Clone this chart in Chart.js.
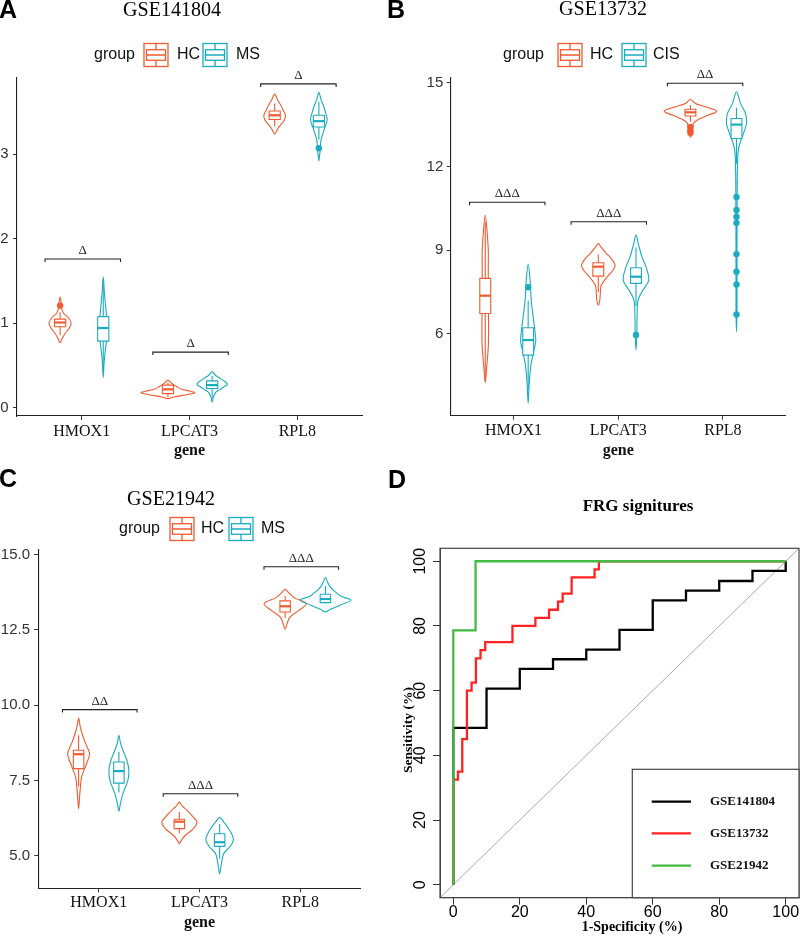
<!DOCTYPE html>
<html>
<head>
<meta charset="utf-8">
<script src="https://cdn.jsdelivr.net/npm/chart.js@4.4.1/dist/chart.umd.min.js"></script>
<style>
  body { margin: 0; background: #fff; }
  #fig { position: relative; width: 800px; height: 936px; overflow: hidden; background: #fff; }
  canvas { position: absolute; }
  .tag { position: absolute; font: bold 25px/25px "Liberation Sans", Arial, sans-serif; color: #000; }
</style>
</head>
<body>
<div id="fig">
  <canvas id="panelA" width="400" height="460" style="left:0;top:0"></canvas>
  <canvas id="panelB" width="400" height="460" style="left:400px;top:0"></canvas>
  <canvas id="panelC" width="400" height="476" style="left:0;top:460px"></canvas>
  <canvas id="panelD" width="400" height="476" style="left:400px;top:460px"></canvas>
  <div class="tag" style="left:-1px;top:-3px">A</div>
  <div class="tag" style="left:387px;top:-3px">B</div>
  <div class="tag" style="left:-1px;top:466px">C</div>
  <div class="tag" style="left:388px;top:467px">D</div>
</div>
<script>
const SANS = '"Liberation Sans", Arial, sans-serif';
const SERIF = '"Liberation Serif", "Times New Roman", serif';
const COL_HC = '#F05A30';
const COL_2 = '#1AACC0';

const genes = ['HMOX1', 'LPCAT3', 'RPL8'];

// ---- A: GSE141804 (HC vs MS) ----
const aYTicks = [0, 1, 2, 3];
// [lower whisker, q1, median, q3, upper whisker]
const aBoxHC = [[0.86, 0.96, 1.01, 1.05, 1.13], [0.13, 0.17, 0.22, 0.27, 0.30], [3.33, 3.41, 3.46, 3.51, 3.60]];
const aBoxMS = [[0.42, 0.79, 0.945, 1.08, 1.45], [0.12, 0.23, 0.27, 0.32, 0.38], [3.17, 3.32, 3.39, 3.46, 3.62]];
const aOutHC = [[1.21], [], []];
const aOutMS = [[], [], [3.07]];
// violin outline: [value, half width in category units]
const aViolinHC = [
  [[0.77, 0], [0.82, .019], [0.88, .046], [0.95, .088], [1.01, .102], [1.07, .074], [1.12, .032], [1.18, .014], [1.25, .009], [1.31, 0]],
  [[0.11, 0], [0.13, .056], [0.16, .186], [0.18, .25], [0.20, .204], [0.22, .13], [0.25, .083], [0.28, .046], [0.31, .019], [0.33, 0]],
  [[3.24, 0], [3.30, .028], [3.36, .065], [3.41, .093], [3.46, .10], [3.52, .079], [3.58, .056], [3.64, .028], [3.71, 0]]
];
const aViolinMS = [
  [[0.36, 0], [0.50, .006], [0.65, .016], [0.80, .031], [0.94, .037], [1.08, .031], [1.24, .019], [1.39, .009], [1.55, 0]],
  [[0.07, 0], [0.12, .009], [0.15, .019], [0.19, .037], [0.22, .074], [0.25, .111], [0.28, .142], [0.31, .121], [0.35, .074], [0.39, .028], [0.43, 0]],
  [[2.92, 0], [2.97, .005], [3.07, .014], [3.16, .019], [3.28, .046], [3.40, .077], [3.48, .065], [3.56, .046], [3.65, .019], [3.73, 0]]
];
const aSigText = ['Δ', 'Δ', 'Δ'];
const aSigY = [1.76, 0.66, 3.83];

// ---- B: GSE13732 (HC vs CIS) ----
const bYTicks = [6, 9, 12, 15];
const bBoxHC = [[4.4, 6.73, 7.37, 7.99, 10.0], [7.5, 8.07, 8.41, 8.55, 8.85], [13.6, 13.81, 13.94, 14.05, 14.2]];
const bBoxCIS = [[4.0, 5.24, 5.78, 6.22, 7.2], [7.0, 7.81, 8.05, 8.37, 9.1], [12.1, 13.0, 13.5, 13.72, 14.1]];
const bOutHC = [[], [], [13.42, 13.30, 13.21]];
const bOutCIS = [[7.67], [5.96], [10.91, 10.44, 10.20, 9.98, 8.86, 8.23, 7.77, 6.70]];
const bViolinHC = [
  [[4.25, 0], [4.82, .014], [5.54, .029], [6.25, .032], [7.33, .029], [8.4, .029], [9.0, .029], [9.6, .019], [10.26, 0]],
  [[7.03, 0], [7.2, .014], [7.45, .019], [7.75, .029], [8.05, .086], [8.3, .143], [8.47, .16], [8.7, .124], [8.89, .076], [9.1, .029], [9.24, 0]],
  [[13.04, 0], [13.3, .019], [13.55, .029], [13.69, .076], [13.84, .172], [13.99, .251], [14.14, .143], [14.26, .048], [14.4, 0]]
];
const bViolinCIS = [
  [[3.51, 0], [4.22, .01], [4.82, .024], [5.3, .048], [5.72, .072], [6.02, .067], [6.61, .048], [7.21, .029], [7.9, .019], [8.5, 0]],
  [[5.42, 0], [6.0, .008], [6.6, .01], [7.2, .019], [7.57, .067], [7.93, .122], [8.4, .096], [8.76, .057], [9.2, .024], [9.54, 0]],
  [[6.08, 0], [7.0, .005], [9.0, .005], [11.5, .007], [12.47, .014], [12.83, .033], [13.19, .067], [13.54, .096], [13.9, .086], [14.26, .038], [14.68, 0]]
];
const bSigText = ['ΔΔΔ', 'ΔΔΔ', 'ΔΔ'];
const bSigY = [10.72, 10.02, 14.98];

// ---- C: GSE21942 (HC vs MS) ----
const cYTicks = [5, 7.5, 10, 12.5, 15];
const cBoxHC = [[7.3, 7.89, 8.37, 8.5, 9.0], [5.75, 5.9, 6.13, 6.21, 6.45], [12.9, 13.09, 13.28, 13.46, 13.62]];
const cBoxMS = [[7.1, 7.41, 7.81, 8.11, 8.45], [4.9, 5.31, 5.45, 5.73, 6.05], [13.38, 13.40, 13.52, 13.68, 13.95]];
const cOutHC = [[], [], []];
const cOutMS = [[], [], []];
const cViolinHC = [
  [[6.56, 0], [6.84, .007], [7.17, .015], [7.61, .03], [8.06, .079], [8.39, .109], [8.72, .07], [9.05, .035], [9.3, .015], [9.57, 0]],
  [[5.4, 0], [5.51, .02], [5.68, .06], [5.9, .139], [6.12, .174], [6.28, .139], [6.5, .079], [6.65, .03], [6.78, 0]],
  [[12.52, 0], [12.71, .02], [12.93, .05], [13.15, .139], [13.37, .209], [13.55, .099], [13.65, .06], [13.75, .03], [13.84, 0]]
];
const cViolinMS = [
  [[6.48, 0], [6.73, .015], [7.06, .04], [7.5, .089], [7.83, .099], [8.17, .079], [8.5, .04], [8.75, .015], [9.0, 0]],
  [[4.4, 0], [4.57, .01], [4.79, .02], [5.07, .04], [5.29, .099], [5.51, .136], [5.73, .119], [5.95, .079], [6.12, .04], [6.28, 0]],
  [[13.09, 0], [13.18, .05], [13.32, .149], [13.48, .253], [13.6, .159], [13.7, .119], [13.87, .06], [14.05, .025], [14.24, 0]]
];
const cSigText = ['ΔΔ', 'ΔΔΔ', 'ΔΔΔ'];
const cSigY = [9.85, 7.06, 14.59];

// ---- D: ROC curves, percent ----
const rocNames = ['GSE141804', 'GSE13732', 'GSE21942'];
const rocColors = ['#000000', '#FF2222', '#44B944'];
const roc1Fpr = [0, 0, 10, 20, 30, 40, 50, 60, 70, 80, 90, 100];
const roc1Sens = [0, 48.5, 60.6, 66.7, 69.7, 72.7, 78.8, 87.9, 90.9, 93.9, 97.0, 100];
const roc2Fpr = [0, 0, 1.4, 2.7, 4.1, 5.5, 6.8, 8.2, 9.6, 17.8, 24.7, 28.8, 31.5, 32.9, 35.6, 42.5, 43.8, 100];
const roc2Sens = [0, 32.5, 35, 45, 60, 62.5, 70, 72.5, 75, 80, 82.5, 85, 87.5, 90, 95, 97.5, 100, 100];
const roc3Fpr = [0, 0, 6.7, 100];
const roc3Sens = [0, 78.6, 100, 100];
const rocTicks = [0, 20, 40, 60, 80, 100];

// ---------- violin panels ----------
function curvePath(ctx, pts) {
  const n = pts.length;
  ctx.moveTo(pts[0][0], pts[0][1]);
  for (let i = 0; i < n; i++) {
    const p0 = pts[(i - 1 + n) % n], p1 = pts[i], p2 = pts[(i + 1) % n], p3 = pts[(i + 2) % n];
    ctx.bezierCurveTo(
      p1[0] + (p2[0] - p0[0]) / 6, p1[1] + (p2[1] - p0[1]) / 6,
      p2[0] - (p3[0] - p1[0]) / 6, p2[1] - (p3[1] - p1[1]) / 6,
      p2[0], p2[1]);
  }
  ctx.closePath();
}

function drawKey(ctx, x, y, w, h, color) {
  ctx.save();
  ctx.strokeStyle = color;
  ctx.lineWidth = 1.3;
  ctx.strokeRect(x, y, w, h);
  const t = y + h * 0.27, b = y + h * 0.73, m = y + h / 2, cx = x + w / 2;
  ctx.strokeRect(x + 2.5, t, w - 5, b - t);
  ctx.beginPath();
  ctx.moveTo(x + 2.5, m); ctx.lineTo(x + w - 2.5, m);
  ctx.moveTo(cx, y); ctx.lineTo(cx, t);
  ctx.moveTo(cx, b); ctx.lineTo(cx, y + h);
  ctx.stroke();
  ctx.restore();
}

function violinChart(id, p, lay) {
  const colors = [COL_HC, COL_2];
  const datasets = p.outliers.map((grp, g) => ({
    data: grp.flatMap((vals, i) => vals.map(v => ({ x: i + 1 + lay.dodge[g][i], y: v }))),
    backgroundColor: colors[g],
    borderWidth: 0,
    pointRadius: 3.2
  }));

  const violinPlugin = {
    id: 'violins',
    beforeDatasetsDraw(chart) {
      const ctx = chart.ctx, xs = chart.scales.x, ys = chart.scales.y;
      ctx.save();
      ctx.lineJoin = 'round';
      // violins
      p.violins.forEach((grp, g) => grp.forEach((knots, i) => {
        const cx = i + 1 + lay.dodge[g][i];
        const right = knots.map(([v, w]) => [xs.getPixelForValue(cx + w), ys.getPixelForValue(v)]);
        const left = knots.slice(1, -1).map(([v, w]) => [xs.getPixelForValue(cx - w), ys.getPixelForValue(v)]).reverse();
        ctx.beginPath();
        curvePath(ctx, right.concat(left));
        ctx.strokeStyle = colors[g];
        ctx.lineWidth = 1.1;
        ctx.stroke();
      }));
      // boxes
      p.boxes.forEach((grp, g) => grp.forEach((b, i) => {
        const cx = i + 1 + lay.dodge[g][i];
        const x0 = xs.getPixelForValue(cx - 0.052), x1 = xs.getPixelForValue(cx + 0.052);
        const xm = xs.getPixelForValue(cx);
        const [lo, q1, md, q3, hi] = b.map(v => ys.getPixelForValue(v));
        ctx.strokeStyle = colors[g];
        ctx.lineWidth = 1.1;
        ctx.beginPath();
        ctx.moveTo(xm, q3); ctx.lineTo(xm, hi);
        ctx.moveTo(xm, q1); ctx.lineTo(xm, lo);
        ctx.stroke();
        ctx.fillStyle = '#fff';
        ctx.fillRect(x0, q3, x1 - x0, q1 - q3);
        ctx.strokeRect(x0, q3, x1 - x0, q1 - q3);
        ctx.lineWidth = 2.2;
        ctx.beginPath();
        ctx.moveTo(x0, md); ctx.lineTo(x1, md);
        ctx.stroke();
      }));
      ctx.restore();
    },
    afterDraw(chart) {
      const ctx = chart.ctx, xs = chart.scales.x, ys = chart.scales.y;
      ctx.save();
      // significance brackets
      ctx.strokeStyle = '#222';
      ctx.fillStyle = '#222';
      ctx.lineWidth = 1.1;
      ctx.font = '13px ' + SERIF;
      ctx.textAlign = 'center';
      ctx.textBaseline = 'alphabetic';
      p.sigY.forEach((v, i) => {
        const y = ys.getPixelForValue(v);
        const x0 = xs.getPixelForValue(i + 1 + lay.brLo[i]);
        const x1 = xs.getPixelForValue(i + 1 + lay.brHi[i]);
        ctx.beginPath();
        ctx.moveTo(x0, y + 3); ctx.lineTo(x0, y); ctx.lineTo(x1, y); ctx.lineTo(x1, y + 3);
        ctx.stroke();
        ctx.fillText(p.sigText[i], (x0 + x1) / 2, y - 5);
      });
      // title
      ctx.fillStyle = '#000';
      ctx.font = '20px ' + SERIF;
      ctx.fillText(p.title, lay.titleX, lay.titleBase);
      // legend
      ctx.font = '16px ' + SANS;
      ctx.textAlign = 'left';
      ctx.textBaseline = 'middle';
      ctx.fillStyle = '#111';
      ctx.fillText('group', lay.leg[0], lay.legY);
      drawKey(ctx, lay.leg[1], lay.legY - 11.5, 24, 23, COL_HC);
      ctx.fillText(p.groups[0], lay.leg[2], lay.legY);
      drawKey(ctx, lay.leg[3], lay.legY - 11.5, 24, 23, COL_2);
      ctx.fillText(p.groups[1], lay.leg[4], lay.legY);
      ctx.restore();
    }
  };

  return new Chart(document.getElementById(id), {
    type: 'scatter',
    data: { datasets },
    options: {
      responsive: false,
      animation: false,
      layout: { padding: lay.pad },
      plugins: { legend: { display: false }, tooltip: { enabled: false } },
      scales: {
        x: {
          type: 'linear', min: 0.4, max: 3.6,
          afterFit: s => { s.height = lay.xH; },
          afterBuildTicks: s => { s.ticks = genes.map((g, i) => ({ value: i + 1 })); },
          ticks: { callback: v => genes[v - 1], font: { family: SERIF, size: 16 }, color: '#111', padding: lay.xPad, maxRotation: 0, autoSkip: false },
          grid: { drawOnChartArea: false, tickLength: 4, color: '#333' },
          border: { color: '#222', width: 1.1 },
          title: { display: true, text: 'gene', font: { family: SERIF, size: 16, weight: 'bold' }, color: '#111', padding: { top: 0, bottom: lay.titlePadB } }
        },
        y: {
          type: 'linear', min: p.yMin, max: p.yMax,
          afterFit: s => { s.width = lay.yW; },
          afterBuildTicks: s => { s.ticks = p.yTicks.map(v => ({ value: v })); },
          ticks: { callback: p.yFmt, font: { family: SANS, size: 15 }, color: '#333', padding: lay.yPad },
          grid: { drawOnChartArea: false, tickLength: 4, color: '#333' },
          border: { color: '#222', width: 1.1 }
        }
      }
    },
    plugins: [violinPlugin]
  });
}

violinChart('panelA', {
  title: 'GSE141804', groups: ['HC', 'MS'], yMin: -0.095, yMax: 3.9, yTicks: aYTicks, yFmt: v => String(v),
  boxes: [aBoxHC, aBoxMS], outliers: [aOutHC, aOutMS], violins: [aViolinHC, aViolinMS],
  sigText: aSigText, sigY: aSigY
}, {
  pad: { top: 78, right: 38, left: 0, bottom: 0 }, yW: 17, xH: 44, yPad: 4.5, xPad: 2, titlePadB: 0,
  dodge: [[-0.2, -0.2, -0.21], [0.2, 0.21, 0.2]],
  brLo: [-0.34, -0.34, -0.34], brHi: [0.36, 0.36, 0.36],
  titleX: 172, titleBase: 16, legY: 55, leg: [94, 144, 177, 203, 236]
});

violinChart('panelB', {
  title: 'GSE13732', groups: ['HC', 'CIS'], yMin: 3.07, yMax: 15.17, yTicks: bYTicks, yFmt: v => String(v),
  boxes: [bBoxHC, bBoxCIS], outliers: [bOutHC, bOutCIS], violins: [bViolinHC, bViolinCIS],
  sigText: bSigText, sigY: bSigY
}, {
  pad: { top: 78, right: 14.3, left: 0, bottom: 0 }, yW: 50.7, xH: 44.3, yPad: 3.4, xPad: 1, titlePadB: 0,
  dodge: [[-0.27, -0.19, -0.31], [0.14, 0.17, 0.13]],
  brLo: [-0.42, -0.45, -0.53], brHi: [0.30, 0.27, 0.19],
  titleX: 203, titleBase: 15, legY: 55, leg: [103, 158, 190, 222, 253]
});

violinChart('panelC', {
  title: 'GSE21942', groups: ['HC', 'MS'], yMin: 3.92, yMax: 15.17, yTicks: cYTicks, yFmt: v => v.toFixed(1),
  boxes: [cBoxHC, cBoxMS], outliers: [cOutHC, cOutMS], violins: [cViolinHC, cViolinMS],
  sigText: cSigText, sigY: cSigY
}, {
  pad: { top: 89.3, right: 39.3, left: 0, bottom: 0 }, yW: 38.3, xH: 47.7, yPad: 4.3, xPad: 1, titlePadB: 3.7,
  dodge: [[-0.2, -0.2, -0.15], [0.2, 0.2, 0.25]],
  brLo: [-0.36, -0.36, -0.36], brHi: [0.38, 0.38, 0.38],
  titleX: 171, titleBase: 45, legY: 69, leg: [119, 170, 201, 229, 261]
});

// ---------- D: ROC ----------
const rocSets = [[roc1Fpr, roc1Sens], [roc2Fpr, roc2Sens], [roc3Fpr, roc3Sens]];
const rocDatasets = rocSets.map(([fpr, sens], k) => ({
  label: rocNames[k],
  data: fpr.map((x, j) => ({ x, y: sens[j] })),
  borderColor: rocColors[k],
  borderWidth: 2.3,
  pointRadius: 0,
  stepped: 'before',
  fill: false
})).reverse(); // green drawn on top

const rocPlugin = {
  id: 'rocDecor',
  beforeDatasetsDraw(chart) {
    const ctx = chart.ctx, xs = chart.scales.x, ys = chart.scales.y;
    ctx.save();
    ctx.strokeStyle = '#AAAAAA';
    ctx.lineWidth = 1;
    ctx.beginPath();
    ctx.moveTo(xs.getPixelForValue(xs.min), ys.getPixelForValue(ys.min));
    ctx.lineTo(xs.getPixelForValue(xs.max), ys.getPixelForValue(ys.max));
    ctx.stroke();
    ctx.restore();
  },
  afterDraw(chart) {
    const ctx = chart.ctx, a = chart.chartArea;
    ctx.save();
    // plot box
    ctx.strokeStyle = '#444';
    ctx.lineWidth = 1.2;
    ctx.strokeRect(a.left, a.top, a.right - a.left, a.bottom - a.top);
    // legend
    const lx = 232.3, ly = 309.3;
    ctx.fillStyle = '#fff';
    ctx.fillRect(lx, ly, a.right - lx, a.bottom - ly);
    ctx.strokeRect(lx, ly, a.right - lx, a.bottom - ly);
    ctx.font = 'bold 13px ' + SERIF;
    ctx.textAlign = 'left';
    ctx.textBaseline = 'middle';
    const rows = [341.7, 373.3, 405.7];
    rocNames.forEach((name, k) => {
      ctx.strokeStyle = rocColors[k];
      ctx.lineWidth = 2.3;
      ctx.beginPath();
      ctx.moveTo(251.7, rows[k]); ctx.lineTo(291, rows[k]);
      ctx.stroke();
      ctx.fillStyle = '#111';
      ctx.fillText(name, 310, rows[k]);
    });
    // titles
    ctx.fillStyle = '#000';
    ctx.textAlign = 'center';
    ctx.textBaseline = 'alphabetic';
    ctx.font = 'bold 17px ' + SERIF;
    ctx.fillText('FRG signitures', 238, 50.7);
    ctx.font = 'bold 14px ' + SERIF;
    ctx.fillText('1-Specificity (%)', 232, 471);
    ctx.translate(11.5, 270);
    ctx.rotate(-Math.PI / 2);
    ctx.font = 'bold 13.5px ' + SERIF;
    ctx.fillText('Sensitivity (%)', 0, 0);
    ctx.restore();
  }
};

new Chart(document.getElementById('panelD'), {
  type: 'line',
  data: { datasets: rocDatasets },
  options: {
    responsive: false,
    animation: false,
    layout: { padding: { top: 88.3, right: 1, left: 0, bottom: 0 } },
    plugins: { legend: { display: false }, tooltip: { enabled: false } },
    scales: {
      x: {
        type: 'linear', min: -4, max: 104,
        afterFit: s => { s.height = 38.3; },
        afterBuildTicks: s => { s.ticks = rocTicks.map(v => ({ value: v })); },
        ticks: { font: { family: SANS, size: 16 }, color: '#000', padding: -2, maxRotation: 0, autoSkip: false },
        grid: { drawOnChartArea: false, tickLength: 7, color: '#333' },
        border: { color: '#444', width: 1 }
      },
      y: {
        type: 'linear', min: -4, max: 104,
        afterFit: s => { s.width = 40; },
        afterBuildTicks: s => { s.ticks = rocTicks.map(v => ({ value: v })); },
        ticks: { font: { family: SANS, size: 16 }, color: '#000', padding: -1, minRotation: 90, maxRotation: 90, crossAlign: 'center', autoSkip: false },
        grid: { drawOnChartArea: false, tickLength: 7, color: '#333' },
        border: { color: '#444', width: 1 }
      }
    }
  },
  plugins: [rocPlugin]
});
</script>
</body>
</html>
